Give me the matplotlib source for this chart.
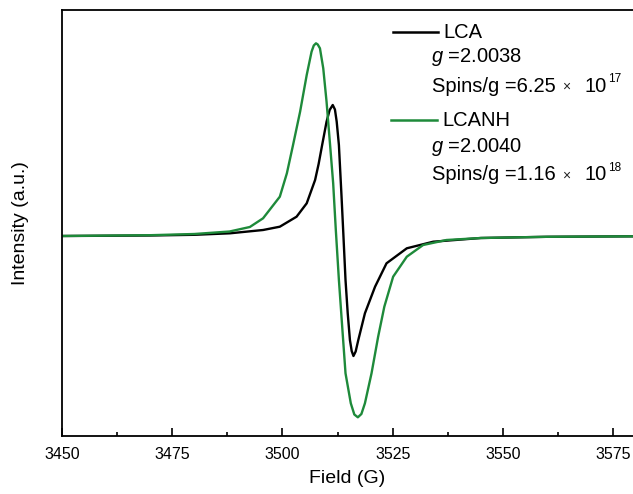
import matplotlib
matplotlib.use("Agg")
import matplotlib.pyplot as plt
from matplotlib.lines import Line2D

plt.rcParams['font.family'] = ['Liberation Sans', 'DejaVu Sans']
plt.rcParams['mathtext.fontset'] = 'custom'
plt.rcParams['mathtext.rm'] = 'Liberation Sans'
plt.rcParams['mathtext.it'] = 'Liberation Sans:italic'

# ---- data ----
lca_field = [3450, 3470, 3480, 3488.1, 3495.6, 3499.4, 3503.2, 3505.5, 3507.4, 3508.2,
             3509.0, 3510.0, 3510.7, 3511.4, 3511.9, 3512.3, 3512.8, 3513.4, 3513.8,
             3514.3, 3514.8, 3515.3, 3515.7, 3516.1, 3516.6, 3517.2, 3518.7, 3521.0,
             3523.6, 3528.2, 3534.2, 3545, 3560, 3580]
lca_int = [0.0, 0.5, 1.2, 2.7, 6.0, 9.3, 19.3, 32.7, 56.0, 72.0,
           91.0, 114.3, 126.0, 131.0, 126.5, 114.3, 91.0, 39.3, 2.7,
           -44.0, -77.3, -104.0, -115.0, -120.0, -115.5, -104.0, -77.3, -50.7,
           -27.3, -12.3, -5.7, -2.0, -0.8, -0.3]

lcanh_field = [3450, 3470, 3480, 3488.0, 3492.6, 3495.6, 3499.4, 3501.0, 3502.4, 3504.0,
               3505.5, 3506.6, 3507.1, 3507.6, 3508.0, 3508.5, 3509.25, 3510.0, 3510.8,
               3511.5, 3512.1, 3512.8, 3513.6, 3514.3, 3515.5, 3516.3, 3517.1, 3517.9,
               3518.7, 3520.2, 3521.7, 3523.1, 3525.1, 3528.2, 3531.9, 3537.2, 3545,
               3560, 3580]
lcanh_int = [0.0, 0.8, 2.0, 4.5, 9.0, 17.7, 39.3, 62.7, 91.0, 124.3,
             161.0, 184.3, 190.5, 192.7, 191.5, 187.7, 167.7, 134.3, 91.0,
             52.7, 6.0, -44.0, -94.0, -137.3, -167.3, -178.5, -181.3, -178.0,
             -167.3, -137.3, -100.7, -70.7, -40.7, -20.7, -9.0, -4.0, -2.0,
             -0.8, -0.3]

x_ticks = [3450, 3475, 3500, 3525, 3550, 3575]
series_names = ["LCA", "LCANH"]
g_values = ["2.0038", "2.0040"]
spin_mant = ["6.25", "1.16"]
spin_exp = ["17", "18"]
colors = ["black", "#1e8a3a"]

W, H = 633, 494
fig = plt.figure(figsize=(W / 100, H / 100), dpi=100)
ax = fig.add_axes([62 / W, 1 - 436 / H, (633 - 62) / W, (436 - 10) / H])

ax.plot(lca_field, lca_int, color=colors[0], lw=1.7, solid_joinstyle='round')
ax.plot(lcanh_field, lcanh_int, color=colors[1], lw=1.7, solid_joinstyle='round')

ax.set_xticks(x_ticks)
ax.set_xticks([t + 12.5 for t in x_ticks], minor=True)
ax.set_yticks([])
ax.set_xlim(3450, 3579.5)
ax.set_ylim(-200, 226)
ax.spines['right'].set_visible(False)
for s in ['left', 'top', 'bottom']:
    ax.spines[s].set_linewidth(1.3)
ax.tick_params(axis='x', which='major', direction='in', length=6, width=1.2,
               labelsize=11.5, pad=8)
ax.tick_params(axis='x', which='minor', direction='in', length=3, width=1.2)
ax.set_xlabel("Field (G)", fontsize=14, labelpad=6)
ax.set_ylabel("Intensity (a.u.)", fontsize=14, labelpad=24)


def fx(px):
    return px / W


def fy(py):
    return 1 - py / H


# legend-like annotation block
blocks = [(32, 57, 86), (120, 147, 175)]
line_x = [(393, 438), (391, 437)]
for i in range(2):
    ly, gy, sy = blocks[i]
    fig.add_artist(Line2D([fx(line_x[i][0]), fx(line_x[i][1])], [fy(ly), fy(ly)],
                          color=colors[i], lw=1.8))
    fig.text(fx(line_x[i][1] + 5), fy(ly), series_names[i], fontsize=14.5,
             va='center', ha='left')
    fig.text(fx(431), fy(gy), "$g$ =" + g_values[i], fontsize=14.5,
             va='center', ha='left')
    fig.text(fx(432), fy(sy), "Spins/g =" + spin_mant[i], fontsize=14.5,
             va='center', ha='left')
    fig.text(fx(562), fy(sy + 1), "\u00d7", fontsize=10, va='center', ha='left',
             color='#222222')
    fig.text(fx(585), fy(sy), "10", fontsize=14.5, va='center', ha='left')
    fig.text(fx(608), fy(sy - 7), spin_exp[i], fontsize=8.5, va='center', ha='left')

fig.savefig("out.png", dpi=100)
